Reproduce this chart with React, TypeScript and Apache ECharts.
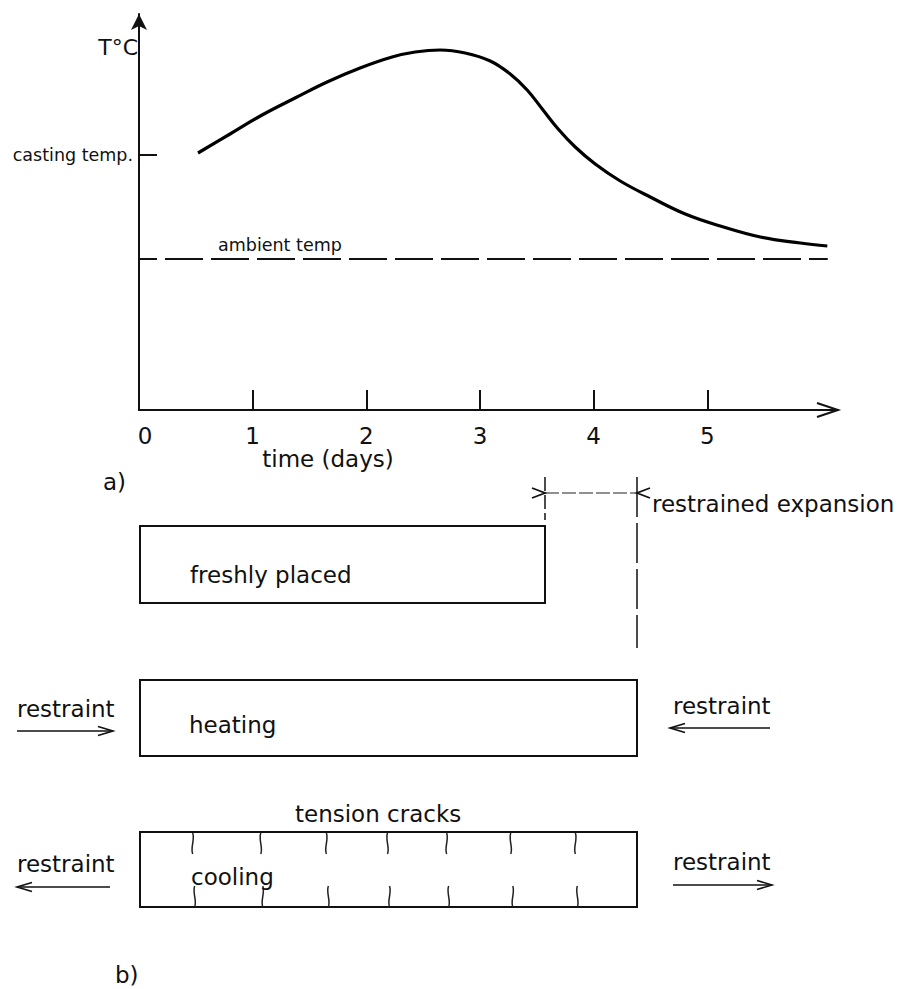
import React, { useEffect, useRef } from 'react';
import * as echarts from 'echarts';

const FONT = '"DejaVu Sans", "Liberation Sans", sans-serif';
const INK = '#111';

// a) temperature history of the concrete (time in days, temperature in schematic °C)
const curveDays = [0.519, 0.801, 1.083, 1.373, 1.655, 1.945, 2.227, 2.43, 2.65, 2.87, 3.09, 3.266, 3.415, 3.548, 3.688, 3.838, 4.014, 4.234, 4.498, 4.806, 5.114, 5.467, 5.819, 6.056];
const curveTemps = [25.7, 27.6, 29.5, 31.2, 32.8, 34.2, 35.3, 35.8, 36.0, 35.7, 34.9, 33.6, 32.0, 30.1, 28.1, 26.3, 24.6, 22.9, 21.3, 19.6, 18.4, 17.3, 16.7, 16.4];
const ambientDays = [0, 6.06];
const ambientTemps = [15.1, 15.1];
const castingTemp = 25.5;
const xTickDays = [1, 2, 3, 4, 5];
const xLabelDays = [0, 1, 2, 3, 4, 5];
const xMaxDays = 6.15;
const yMaxTemp = 39.6;

// b) stages of the member
const stageLabels = ['freshly placed', 'heating', 'cooling'];
const restraintLabel = 'restraint';
const crackLabel = 'tension cracks';
const expansionLabel = 'restrained expansion';
const crackFractions = [0.106, 0.243, 0.375, 0.498, 0.617, 0.746, 0.876];

function chevron(tipX: number, tipY: number, dir: number, back: number, half: number, w = 1.5) {
  return {
    type: 'polyline',
    shape: { points: [[tipX - dir * back, tipY - half], [tipX, tipY], [tipX - dir * back, tipY + half]] },
    style: { stroke: INK, lineWidth: w, fill: null },
  };
}

function arrowLine(x1: number, x2: number, y: number) {
  const dir = x2 > x1 ? 1 : -1;
  return [
    { type: 'line', shape: { x1, y1: y, x2, y2: y }, style: { stroke: INK, lineWidth: 1.5 } },
    chevron(x2, y, dir, 15, 4.5, 1.6),
  ];
}

function txt(text: string, x: number, y: number, size = 23, align = 'left') {
  return {
    type: 'text',
    x,
    y,
    style: { text, fontSize: size, fontFamily: FONT, fill: INK, align, verticalAlign: 'middle' },
  };
}

function rectBox(x: number, y: number, w: number, h: number) {
  return {
    type: 'rect',
    shape: { x, y, width: w, height: h },
    style: { fill: null, stroke: INK, lineWidth: 2 },
  };
}

function crack(x: number, y: number, flip: number) {
  return {
    type: 'bezierCurve',
    shape: { x1: x, y1: y, cpx1: x - 2.5 * flip, cpy1: y + 7, cpx2: x + 2.5 * flip, cpy2: y + 14, x2: x, y2: y + 21 },
    style: { stroke: '#222', lineWidth: 1.5, fill: null },
  };
}

export default function App() {
  const ref = useRef<HTMLDivElement>(null);

  useEffect(() => {
    if (!ref.current) return;
    const chart = echarts.init(ref.current, null, { renderer: 'svg' });

    const boxL = 140;
    const boxW = 497;
    const graphics: any[] = [];

    // part a) extra texts
    graphics.push(txt('T°C', 138, 47, 22, 'right'));
    graphics.push(txt('ambient temp', 218, 245, 17.5));
    graphics.push(txt('time (days)', 328, 459, 23, 'center'));
    graphics.push(txt('a)', 103, 482, 23));
    // x axis open arrow head
    graphics.push(chevron(838, 410, 1, 21, 7, 2));

    // part b) dimension of restrained expansion
    graphics.push({ type: 'line', shape: { x1: 545, y1: 477, x2: 545, y2: 520 }, style: { stroke: '#000', lineWidth: 1.4, lineDash: [14, 4] } });
    graphics.push({ type: 'line', shape: { x1: 637, y1: 477, x2: 637, y2: 648 }, style: { stroke: '#000', lineWidth: 1.4, lineDash: [40, 6] } });
    graphics.push({ type: 'line', shape: { x1: 545, y1: 493, x2: 637, y2: 493 }, style: { stroke: '#222', lineWidth: 1.2, lineDash: [14, 3] } });
    graphics.push(chevron(545, 493, 1, 13, 5, 1.8));
    graphics.push(chevron(637, 493, -1, 13, 5, 1.8));
    graphics.push(txt(expansionLabel, 652, 504, 23));

    // freshly placed
    graphics.push(rectBox(boxL, 526, 405, 77));
    graphics.push(txt(stageLabels[0], 190, 575, 23));

    // heating
    graphics.push(rectBox(boxL, 680, boxW, 76));
    graphics.push(txt(stageLabels[1], 189, 725, 23));
    graphics.push(txt(restraintLabel, 17, 709, 23));
    graphics.push(...arrowLine(17, 113, 731));
    graphics.push(txt(restraintLabel, 673, 706, 23));
    graphics.push(...arrowLine(770, 670, 728));

    // cooling
    graphics.push(txt(crackLabel, 295, 814, 23));
    graphics.push(rectBox(boxL, 832, boxW, 75));
    crackFractions.forEach((f, i) => {
      const x = boxL + f * boxW;
      graphics.push(crack(x, 833, i % 2 ? 1 : -1));
      graphics.push(crack(x + 2, 886, i % 2 ? -1 : 1));
    });
    graphics.push(txt(stageLabels[2], 191, 877, 23));
    graphics.push(txt(restraintLabel, 17, 864, 23));
    graphics.push(...arrowLine(110, 17, 887));
    graphics.push(txt(restraintLabel, 673, 862, 23));
    graphics.push(...arrowLine(673, 772, 885));
    graphics.push(txt('b)', 115, 975, 23));

    chart.setOption({
      animation: false,
      backgroundColor: '#fff',
      textStyle: { fontFamily: FONT, color: INK },
      grid: { left: 139, top: 14, right: 60, bottom: 579, containLabel: false },
      xAxis: {
        type: 'value',
        min: 0,
        max: xMaxDays,
        splitLine: { show: false },
        axisLine: { show: true, onZero: false, lineStyle: { color: INK, width: 2 } },
        axisTick: { show: true, inside: true, length: 20, customValues: xTickDays, lineStyle: { color: INK, width: 2 } },
        axisLabel: {
          show: true,
          customValues: xLabelDays,
          margin: 14,
          fontSize: 23,
          fontFamily: FONT,
          color: INK,
          formatter: (v: number) => (v === 0 ? '{z|0}' : String(v)),
          rich: { z: { padding: [0, 0, 0, 12], fontSize: 23, fontFamily: FONT, color: INK } },
        },
      },
      yAxis: {
        type: 'value',
        min: 0,
        max: yMaxTemp,
        splitLine: { show: false },
        axisLine: { show: true, onZero: false, symbol: ['none', 'arrow'], symbolSize: [12, 16], lineStyle: { color: INK, width: 2 } },
        axisTick: { show: true, inside: true, length: 18, customValues: [ambientTemps[0], castingTemp], lineStyle: { color: INK, width: 2 } },
        axisLabel: {
          show: true,
          customValues: [castingTemp],
          margin: 6,
          fontSize: 17.5,
          fontFamily: FONT,
          color: INK,
          padding: [8, 0, 0, 0],
          formatter: () => 'casting temp.',
        },
      },
      series: [
        {
          type: 'line',
          data: curveDays.map((d, i) => [d, curveTemps[i]]),
          smooth: 0.4,
          showSymbol: false,
          lineStyle: { color: '#000', width: 3.2 },
          silent: true,
        },
        {
          type: 'line',
          data: ambientDays.map((d, i) => [d, ambientTemps[i]]),
          showSymbol: false,
          lineStyle: { color: INK, width: 2, type: [38, 8], dashOffset: 20 },
          silent: true,
        },
      ],
      graphic: graphics,
    });

    return () => chart.dispose();
  }, []);

  return <div ref={ref} style={{ position: 'absolute', left: 0, top: 0, width: 898, height: 989, background: '#fff' }} />;
}
